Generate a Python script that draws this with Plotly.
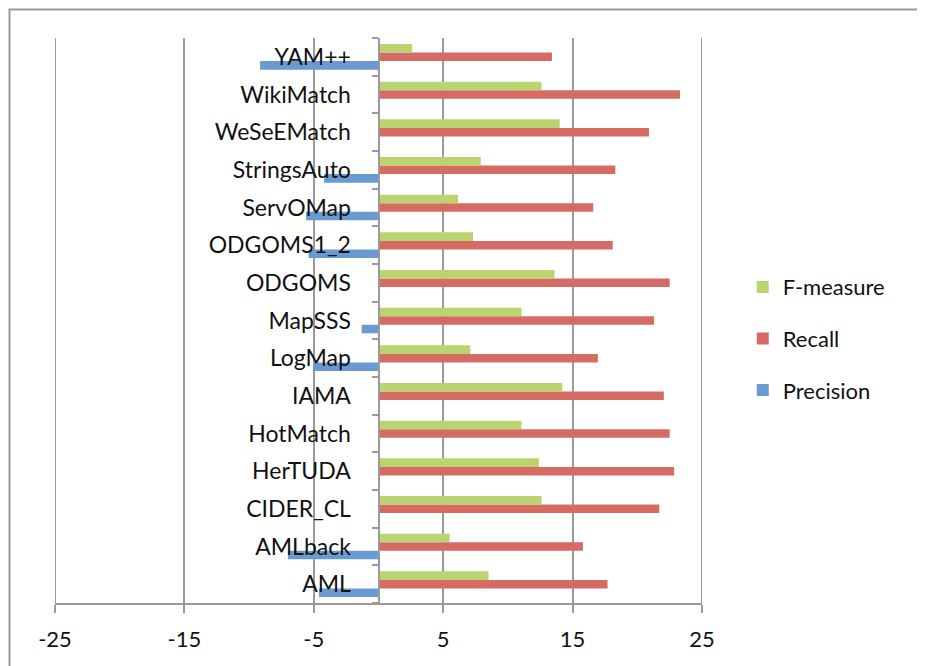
import plotly.graph_objects as go

categories = ["AML", "AMLback", "CIDER_CL", "HerTUDA", "HotMatch", "IAMA", "LogMap",
              "MapSSS", "ODGOMS", "ODGOMS1_2", "ServOMap", "StringsAuto", "WeSeEMatch",
              "WikiMatch", "YAM++"]
precision = [-4.6, -7.0, 0, 0, 0, 0, -5.05, -1.3, 0, -5.4, -5.6, -4.2, 0, 0, -9.15]
recall = [17.7, 15.8, 21.7, 22.85, 22.5, 22.05, 16.95, 21.3, 22.5, 18.1, 16.6, 18.3, 20.9, 23.3, 13.4]
fmeasure = [8.5, 5.5, 12.6, 12.4, 11.05, 14.2, 7.1, 11.05, 13.6, 7.3, 6.15, 7.9, 14.0, 12.6, 2.6]

x_tick_vals = [-25, -15, -5, 5, 15, 25]
x_tick_text = ["-25", "-15", "-5", "5", "15", "25"]

# (name, values, colour, legend rank)
series = [("Precision", precision, "#6A9BD0", 3),
          ("Recall", recall, "#D56B63", 2),
          ("F-measure", fmeasure, "#BAD472", 1)]

FONT = "Lato, 'Open Sans', sans-serif"

fig = go.Figure()
for name, vals, color, rank in series:
    fig.add_trace(go.Bar(y=categories, x=vals, name=name, orientation="h",
                         marker=dict(color=color, line=dict(width=0)),
                         legendgroup=name, legendrank=rank))

gray = "#9a9a9a"
# vertical gridlines at the range edges (plotly drops edge gridlines)
edge_lines = [dict(type="line", xref="x", yref="paper", x0=v, x1=v, y0=0, y1=1,
                   line=dict(color=gray, width=2), layer="below")
              for v in (x_tick_vals[0], x_tick_vals[-1])]

ML, MT, PW, PH = 47, 30, 647, 565
# chart-area border (cropped on the right and bottom in the original)
border = dict(type="rect", xref="paper", yref="paper",
              x0=(1.5 - ML) / PW, x1=1.6, y0=-0.3, y1=(MT + PH - 1.5) / PH,
              line=dict(color=gray, width=2), fillcolor="rgba(0,0,0,0)",
              layer="below")

fig.update_layout(
    width=925, height=666,
    margin=dict(l=ML, r=925 - ML - PW, t=MT, b=666 - MT - PH, autoexpand=False),
    paper_bgcolor="white", plot_bgcolor="white",
    barmode="group", bargap=0.32, bargroupgap=0,
    font=dict(family=FONT, color="#1a1a1a"),
    xaxis=dict(range=[-25, 25], tickvals=x_tick_vals, ticktext=x_tick_text,
               showgrid=True, gridcolor=gray, gridwidth=2,
               showline=True, linecolor=gray, linewidth=2,
               ticks="outside", ticklen=8, tickwidth=2, tickcolor=gray,
               zeroline=False, tickfont=dict(size=22, family=FONT, color="#111"),
               ticklabelstandoff=8, fixedrange=True),
    yaxis=dict(type="category", categoryorder="array", categoryarray=categories,
               anchor="free", position=0.5,
               showline=True, linecolor=gray, linewidth=2,
               ticks="outside", ticklen=6, tickwidth=2, tickcolor=gray,
               tickson="boundaries", showgrid=False, zeroline=False,
               tickfont=dict(size=23, family=FONT, color="#111"),
               ticklabelstandoff=22, layer="above traces"),
    legend=dict(x=1.063, y=0.468, xanchor="left", yanchor="middle",
                traceorder="grouped", tracegroupgap=20,
                font=dict(size=22, family=FONT, color="#111"),
                bgcolor="rgba(0,0,0,0)"),
    showlegend=True,
    shapes=[border] + edge_lines,
)

fig.write_html("out.html")
